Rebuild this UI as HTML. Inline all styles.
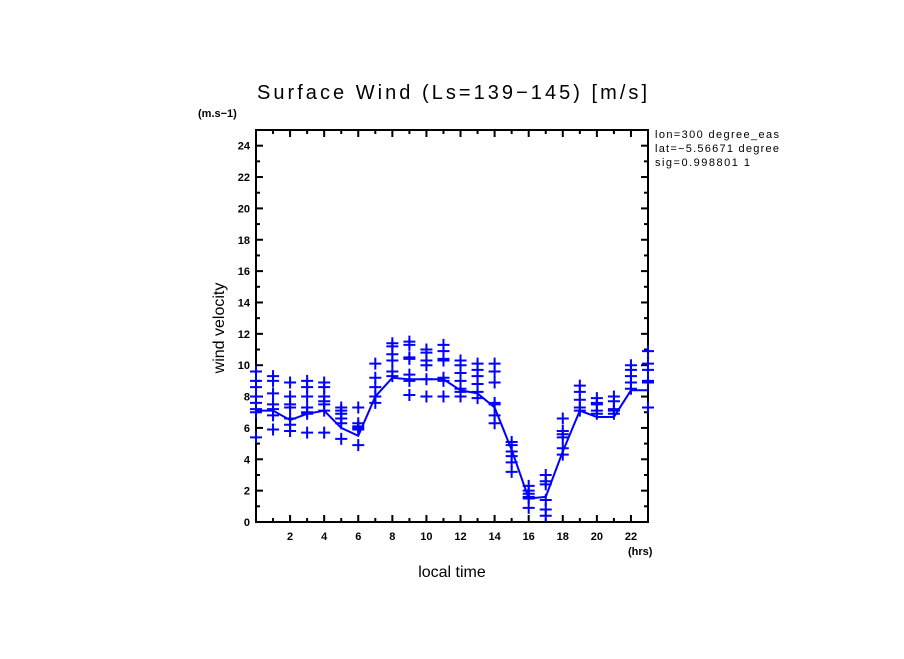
<!DOCTYPE html>
<html><head><meta charset="utf-8"><style>
body{margin:0;background:#fff;}
svg text{font-family:"Liberation Sans",sans-serif;}
</style></head><body>
<svg id="chart" width="904" height="654" viewBox="0 0 904 654">
<text x="257" y="99" font-size="20" textLength="390" lengthAdjust="spacing">Surface Wind  (Ls=139−145) [m/s]</text>
<text x="198" y="117" font-size="11" font-weight="bold">(m.s−1)</text>
<text x="655" y="138" font-size="11" textLength="124">lon=300 degree_eas</text>
<text x="655" y="152" font-size="11" textLength="124">lat=−5.56671 degree</text>
<text x="655" y="166" font-size="11" textLength="95">sig=0.998801 1</text>
<text x="628" y="555" font-size="11" font-weight="bold">(hrs)</text>
<text x="452" y="577" font-size="16" text-anchor="middle">local time</text>
<text x="0" y="0" font-size="16" text-anchor="middle" transform="translate(224,328) rotate(-90)">wind velocity</text>
<g id="axes"></g>
<g id="marks"></g>
</svg>
<script>
const hours=[0,1,2,3,4,5,6,7,8,9,10,11,12,13,14,15,16,17,18,19,20,21,22,23];
const meanValues=[7.1,7.1,6.5,6.9,7.1,6.0,5.5,8.0,9.2,9.1,9.1,9.1,8.4,8.2,7.3,4.6,1.5,1.6,4.5,7.1,6.7,6.7,8.4,8.4];
const samples=[
[9.6,9.0,8.6,8.0,7.6,7.2,7.0,5.4],
[9.3,9.0,8.2,7.5,7.2,6.8,5.9],
[8.9,8.0,7.5,7.3,6.6,6.2,5.8],
[9.0,8.6,8.0,7.3,7.0,6.9,5.7],
[8.9,8.6,8.0,7.7,7.5,7.1,5.7],
[7.3,7.1,6.9,6.6,6.3,5.3],
[7.3,6.3,6.1,6.0,5.9,4.9],
[10.1,9.2,8.6,8.0,7.6],
[11.4,11.2,10.7,10.3,9.6,9.3],
[11.5,11.3,10.5,10.4,9.4,9.0,8.1],
[11.0,10.8,10.3,10.0,9.1,8.0],
[11.3,10.9,10.4,10.3,9.2,9.0,8.0],
[10.3,10.0,9.5,9.0,8.5,8.3,8.0],
[10.1,9.7,9.3,8.8,8.3,7.9],
[10.1,9.6,8.9,7.6,7.5,6.8,6.3],
[5.1,4.9,4.5,4.2,3.8,3.2],
[2.3,2.0,1.8,1.6,1.5,0.9],
[3.0,2.6,2.4,1.4,0.8,0.4],
[6.6,5.8,5.6,5.4,4.7,4.3],
[8.7,8.3,7.8,7.3,7.1],
[7.9,7.6,7.5,7.1,6.9],
[8.0,7.7,7.2,7.1,6.9],
[10.0,9.7,9.3,8.9,8.5],
[10.9,10.1,9.7,9.0,8.9,7.3]];
const yTickLabels=[0,2,4,6,8,10,12,14,16,18,20,22,24];
const xTickLabels=[2,4,6,8,10,12,14,16,18,20,22];

const X0=256,X1=648,Y0=522,Y1=130,XMAX=23,YMAX=25;
const sx=v=>X0+(X1-X0)*v/XMAX;
const sy=v=>Y0-(Y0-Y1)*v/YMAX;
const NS='http://www.w3.org/2000/svg';
function mk(tag,attrs,parent){const e=document.createElementNS(NS,tag);for(const k in attrs)e.setAttribute(k,attrs[k]);parent.appendChild(e);return e;}
const axes=document.getElementById('axes'),marks=document.getElementById('marks');
const frame=mk('rect',{x:X0,y:Y1,width:X1-X0,height:Y0-Y1,fill:'none',stroke:'#000','stroke-width':2},axes);


for(let h=1;h<XMAX;h++){
  const len=h%2===0?7:4;
  const t1=mk('line',{x1:sx(h),x2:sx(h),y1:Y0,y2:Y0-len,stroke:'#000','stroke-width':2},axes);
  
  
  const t2=mk('line',{x1:sx(h),x2:sx(h),y1:Y1,y2:Y1+len,stroke:'#000','stroke-width':2},axes);
  
  
}
for(let v=1;v<YMAX;v++){
  const len=v%2===0?7:4;
  const t1=mk('line',{x1:X0,x2:X0+len,y1:sy(v),y2:sy(v),stroke:'#000','stroke-width':2},axes);
  
  
  const t2=mk('line',{x1:X1,x2:X1-len,y1:sy(v),y2:sy(v),stroke:'#000','stroke-width':2},axes);
  
  
}
yTickLabels.forEach(v=>{
  const t=mk('text',{x:X0-6,y:sy(v)+4,'font-size':11,'font-weight':'bold','text-anchor':'end'},axes);
  t.textContent=v;
  
  
});
xTickLabels.forEach(v=>{
  const t=mk('text',{x:sx(v),y:Y0+18,'font-size':11,'font-weight':'bold','text-anchor':'middle'},axes);
  t.textContent=v;
  
  
});
samples.forEach((arr,i)=>{
  arr.forEach(v=>{
    const x=sx(hours[i]),y=sy(v);
    const p=mk('path',{d:`M${x-6},${y}H${x+6}M${x},${y-6}V${y+6}`,stroke:'#0000ff','stroke-width':2,fill:'none'},marks);
    
    
  });
});
const line=mk('polyline',{points:meanValues.map((v,i)=>sx(hours[i])+','+sy(v)).join(' '),fill:'none',stroke:'#0000ff','stroke-width':2},marks);


</script>
</body></html>
